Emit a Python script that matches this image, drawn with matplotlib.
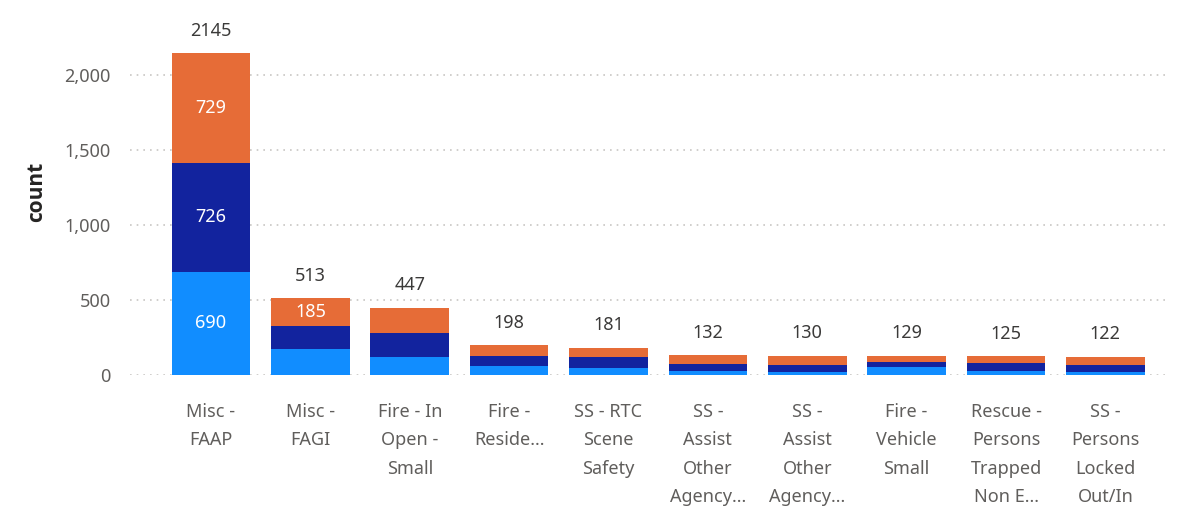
import matplotlib.pyplot as plt
import numpy as np

plt.rcParams['font.family'] = ['Noto Sans', 'DejaVu Sans']

# Data
categories = ["Misc -\nFAAP", "Misc -\nFAGI", "Fire - In\nOpen -\nSmall", "Fire -\nReside...",
              "SS - RTC\nScene\nSafety", "SS -\nAssist\nOther\nAgency...", "SS -\nAssist\nOther\nAgency...",
              "Fire -\nVehicle\nSmall", "Rescue -\nPersons\nTrapped\nNon E...", "SS -\nPersons\nLocked\nOut/In"]
seg_light = [690, 175, 120, 62, 44, 29, 22, 55, 29, 22]
seg_navy = [726, 153, 163, 65, 78, 42, 45, 34, 53, 45]
seg_orange = [729, 185, 164, 71, 59, 61, 63, 40, 43, 55]
totals = [2145, 513, 447, 198, 181, 132, 130, 129, 125, 122]
yticks = [0, 500, 1000, 1500, 2000]

colors = ["#118DFF", "#12239E", "#E66C37"]
tick_color = "#605E5C"

fig = plt.figure(figsize=(11.86, 5.12), dpi=100)
ax = fig.add_axes([130 / 1186, 137 / 512, 1040 / 1186, 345 / 512])

x = np.arange(len(categories))
width = 0.79
bottom = np.zeros(len(categories))
for vals, c in zip([seg_light, seg_navy, seg_orange], colors):
    vals = np.array(vals)
    ax.bar(x, vals, width, bottom=bottom, color=c, zorder=3)
    # white labels only on the big segments
    for xi, b, v in zip(x, bottom, vals):
        if v >= 180:
            ax.text(xi, b + v / 2, str(v), ha="center", va="center", color="white", fontsize=13, zorder=4)
    bottom += vals

for xi, t in zip(x, totals):
    ax.text(xi, t + 90, str(t), ha="center", va="bottom", color="#3b3a39", fontsize=13, clip_on=False)

ax.set_xlim(-0.815, 9.65)
ax.set_ylim(0, 2300)
ax.set_yticks(yticks)
ax.set_yticklabels([f"{v:,}" for v in yticks])
ax.set_xticks(x)
ax.set_xticklabels(categories, linespacing=1.75, va="top")
ax.tick_params(axis="both", length=0, colors=tick_color, labelsize=13)
ax.tick_params(axis="y", pad=14)
ax.tick_params(axis="x", pad=20)
ax.yaxis.grid(True, color="#c8c6c4", linestyle=(0, (1, 3)), linewidth=1.2, zorder=0)
for s in ax.spines.values():
    s.set_visible(False)
ax.set_ylabel("count", fontsize=15, fontweight="bold", color="#252423",
              family=["Open Sans", "DejaVu Sans"])
ax.yaxis.set_label_coords(-0.08, 0.53)

fig.savefig("out.png", dpi=100)
